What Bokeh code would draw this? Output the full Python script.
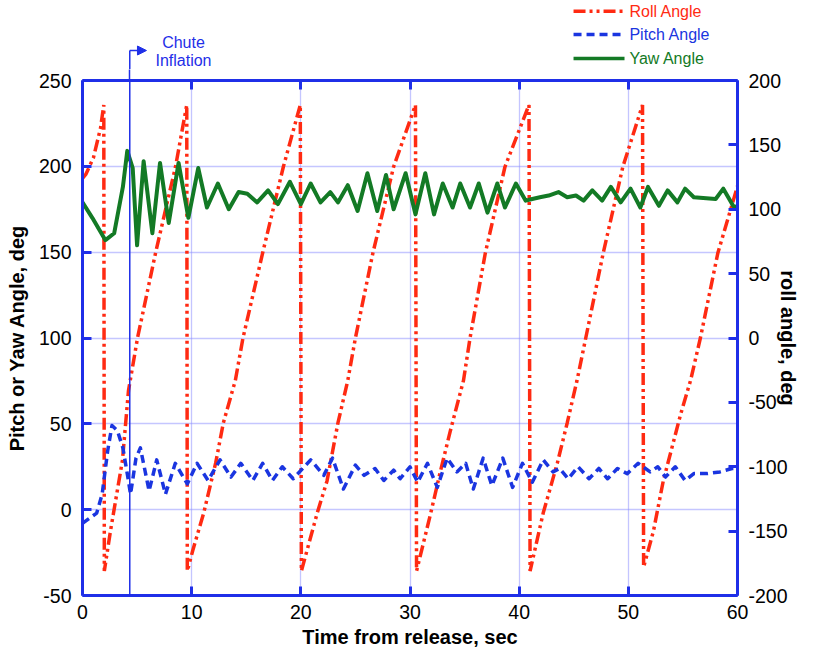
from bokeh.plotting import figure
from bokeh.layouts import column
from bokeh.models import Range1d, LinearAxis, FixedTicker, Label, Arrow, NormalHead, Span
from bokeh.embed import file_html
from bokeh.resources import INLINE

# ---------------- data ----------------
x_ticks = [0, 10, 20, 30, 40, 50, 60]
left_ticks = [-50, 0, 50, 100, 150, 200, 250]
right_ticks = [-200, -150, -100, -50, 0, 50, 100, 150, 200]

roll_t = [0, 0.3, 1.0, 1.65, 1.95, 2.0, 2.56, 3.66, 4.21, 5.04, 6.69, 8.52, 9.55, 9.6,
          10.1, 11.1, 12.2, 12.9, 14.0, 14.7, 16.5, 18.4, 19.95, 20.05,
          21.5, 22.4, 23.4, 24.3, 25.0, 26.6, 28.5, 30.5, 30.6,
          31.9, 32.8, 33.7, 34.9, 35.5, 36.9, 38.7, 40.9, 41.0,
          42.2, 43.5, 44.4, 45.3, 46.1, 47.7, 49.5, 51.3, 51.4,
          52.3, 53.2, 54.8, 55.7, 56.6, 58.2, 60]
roll_v = [124, 127, 140, 163, 181, -181, -150, -95, -41, 0, 66, 133, 181, -181,
          -165, -136, -97, -66, -33, 0, 66, 133, 181, -181,
          -136, -111, -66, -33, 0, 66, 133, 181, -181,
          -136, -103, -72, -33, 0, 66, 133, 181, -181,
          -136, -97, -66, -33, 0, 66, 133, 181, -178,
          -150, -111, -59, -33, 0, 66, 118]

pitch_t = [0, 1.3, 1.8, 2.3, 2.7, 3.2, 3.7, 4.1, 4.4, 4.9, 5.3, 6.1, 6.8, 7.6, 8.5, 9.6,
           10.5, 11.5, 12.6, 13.6, 14.5, 15.6, 16.5, 17.4, 18.3, 19.3, 20.9, 22.1, 22.9,
           23.9, 25.0, 25.8, 26.8, 27.6, 28.5, 29.1, 30.0, 30.7, 31.6, 32.5, 33.4, 34.3,
           35.1, 35.8, 36.7, 37.5, 38.5, 39.4, 40.3, 41.2, 42.2, 43.1, 43.7, 44.5, 45.4,
           46.4, 47.3, 48.1, 49.0, 49.9, 50.9, 52.0, 52.7, 53.4, 54.3, 55.2, 56.0, 57.2,
           58.4, 59.5, 60]
pitch_v = [-8, -2, 9, 34, 49, 46, 36, 21, 9, 30, 36, 11, 29, 9, 27, 15,
           27, 17, 29, 19, 27, 17, 27, 17, 25, 18, 29, 20, 30,
           12, 26, 20, 24, 17, 23, 18, 25, 16, 27, 13, 30, 22,
           27, 12, 30, 14, 30, 13, 27, 16, 29, 22, 24, 18, 25,
           18, 24, 18, 24, 21, 27, 22, 25, 19, 25, 17, 21, 21,
           22, 24, 24]

yaw_t = [0, 0.9, 2.1, 2.9, 3.7, 4.1, 4.6, 5.0, 5.6, 6.4, 7.1, 7.9, 8.8, 9.7, 10.6, 11.4,
         12.4, 13.4, 14.3, 15.1, 16.0, 17.0, 17.9, 19.0, 20.0, 20.9, 21.8, 22.7, 23.4,
         24.3, 25.2, 26.1, 27.0, 27.8, 28.5, 29.6, 30.5, 31.4, 32.2, 33.0, 33.9, 34.6,
         35.5, 36.3, 37.1, 38.0, 38.7, 39.7, 40.6, 41.2, 41.9, 42.7, 43.6, 44.4, 45.2,
         45.9, 46.7, 47.6, 48.4, 49.3, 50.2, 51.1, 51.8, 52.8, 53.6, 54.5, 55.2, 56.0,
         58.0, 58.7, 59.6, 60]
yaw_v = [179, 170, 157, 161, 188, 209, 199, 154, 203, 161, 202, 167, 202, 170, 199, 176,
         190, 175, 185, 184, 179, 186, 178, 191, 178, 190, 179, 185, 179,
         189, 174, 196, 174, 195, 175, 196, 172, 196, 172, 190, 176, 190,
         176, 190, 173, 190, 176, 190, 180, 181, 182, 183, 185, 182, 183,
         180, 186, 180, 188, 179, 187, 176, 188, 177, 186, 179, 187, 182,
         181, 187, 177, 176]

chute_t = 4.33
series_names = ["Roll Angle", "Pitch Angle", "Yaw Angle"]

# ---------------- styles ----------------
BLUE = "#1f2fe8"
RED = "#ff2a12"
PBLUE = "#1a35e0"
GREEN = "#137a25"
GRID = "#8a8cff"
FONT = "Liberation Sans"
ROLL_DASH = "12 4 3 4 3 4"
PITCH_DASH = "8 5"

LEFT_B, RIGHT_B = 82, 73
FRAME_W = 655
HEADER_H = 69
TOP_B = 80 - HEADER_H

x_range = Range1d(0, 60)

# ---------------- header (legend + chute annotation) ----------------
hdr = figure(frame_width=FRAME_W, frame_height=HEADER_H, output_backend="svg",
             toolbar_location=None, x_range=x_range, y_range=Range1d(HEADER_H, 0),
             min_border_left=LEFT_B, min_border_right=RIGHT_B,
             min_border_top=0, min_border_bottom=0,
             x_axis_type=None, y_axis_type=None)
hdr.outline_line_color = None
hdr.grid.visible = False

legend_rows = [(series_names[0], RED, ROLL_DASH, 10.7),
               (series_names[1], PBLUE, PITCH_DASH, 34.0),
               (series_names[2], GREEN, "solid", 58.0)]
for name, col, dash, yy in legend_rows:
    hdr.line([44.98, 49.65], [yy, yy], line_color=col, line_width=3.5, line_dash=dash)
    hdr.add_layout(Label(x=50.1, y=yy, text=name, text_align="left", text_baseline="middle",
                         text_font=FONT, text_font_size="16px", text_color=col))

hdr.segment(x0=[chute_t], y0=[50], x1=[chute_t], y1=[HEADER_H + 2],
            line_color=BLUE, line_width=1.5)
hdr.add_layout(Arrow(end=NormalHead(size=9, fill_color=BLUE, line_color=BLUE, line_width=1),
                     x_start=chute_t, y_start=50, x_end=5.86, y_end=50,
                     line_color=BLUE, line_width=1.5))
for txt, yy in (("Chute", 42), ("Inflation", 60)):
    hdr.add_layout(Label(x=9.25, y=yy, text=txt, text_align="center", text_baseline="middle",
                         text_font=FONT, text_font_size="16px", text_color=BLUE))

# ---------------- main plot ----------------
p = figure(frame_width=FRAME_W, frame_height=515, output_backend="svg", toolbar_location=None,
           x_range=x_range, y_range=Range1d(-50, 250),
           min_border_left=LEFT_B, min_border_right=RIGHT_B,
           min_border_top=TOP_B, min_border_bottom=55)
p.outline_line_color = None
p.extra_y_ranges = {"roll": Range1d(-200, 200)}


def style_axis(ax):
    ax.axis_line_color = BLUE
    ax.axis_line_width = 3
    ax.major_tick_line_color = BLUE
    ax.major_tick_line_width = 3
    ax.major_tick_in = 9
    ax.major_tick_out = 0
    ax.minor_tick_line_color = None
    ax.major_label_text_font = FONT
    ax.major_label_text_font_size = "19.5px"
    ax.major_label_text_color = "black"
    ax.axis_label_text_font = FONT
    ax.axis_label_text_font_size = "20px"
    ax.axis_label_text_font_style = "bold"
    ax.axis_label_text_color = "black"


p.xaxis.ticker = FixedTicker(ticks=x_ticks)
p.yaxis.ticker = FixedTicker(ticks=left_ticks)
p.yaxis.major_label_overrides = {v: str(v) for v in left_ticks}
p.xaxis.axis_label = "Time from release, sec"
p.yaxis.axis_label = "Pitch or Yaw Angle, deg"
style_axis(p.xaxis[0])
style_axis(p.yaxis[0])
p.xaxis.major_label_standoff = 9
p.xaxis.axis_label_standoff = 4
p.yaxis.major_label_standoff = 11
p.yaxis.axis_label_standoff = 8

right = LinearAxis(y_range_name="roll", ticker=FixedTicker(ticks=right_ticks),
                   axis_label="roll angle, deg",
                   major_label_overrides={v: str(v) for v in right_ticks})
style_axis(right)
right.major_label_standoff = 11
right.axis_label_standoff = -14
p.add_layout(right, "right")

# top frame edge: inward major ticks, plus the chute-inflation marker continuing upward
top = LinearAxis(ticker=FixedTicker(ticks=x_ticks, minor_ticks=[chute_t]))
style_axis(top)
top.major_label_text_color = None
top.major_label_text_font_size = "0px"
top.major_label_standoff = 0
top.minor_tick_line_color = BLUE
top.minor_tick_line_width = 1.5
top.minor_tick_in = 0
top.minor_tick_out = TOP_B
p.add_layout(top, "above")

p.xgrid.ticker = FixedTicker(ticks=x_ticks)
p.ygrid.ticker = FixedTicker(ticks=left_ticks)
for g in (p.xgrid[0], p.ygrid[0]):
    g.grid_line_color = GRID
    g.grid_line_dash = "1 1"
    g.grid_line_width = 1.3

p.add_layout(Span(location=chute_t, dimension="height", line_color=BLUE, line_width=1.5))

p.line(roll_t, roll_v, y_range_name="roll", line_color=RED, line_width=3.5,
       line_dash=ROLL_DASH)
p.line(pitch_t, pitch_v, line_color=PBLUE, line_width=3.5, line_dash=PITCH_DASH,
       line_join="round")
p.line(yaw_t, yaw_v, line_color=GREEN, line_width=4, line_join="round")

layout = column(hdr, p, spacing=0)
open("out.html", "w").write(file_html(layout, INLINE))
